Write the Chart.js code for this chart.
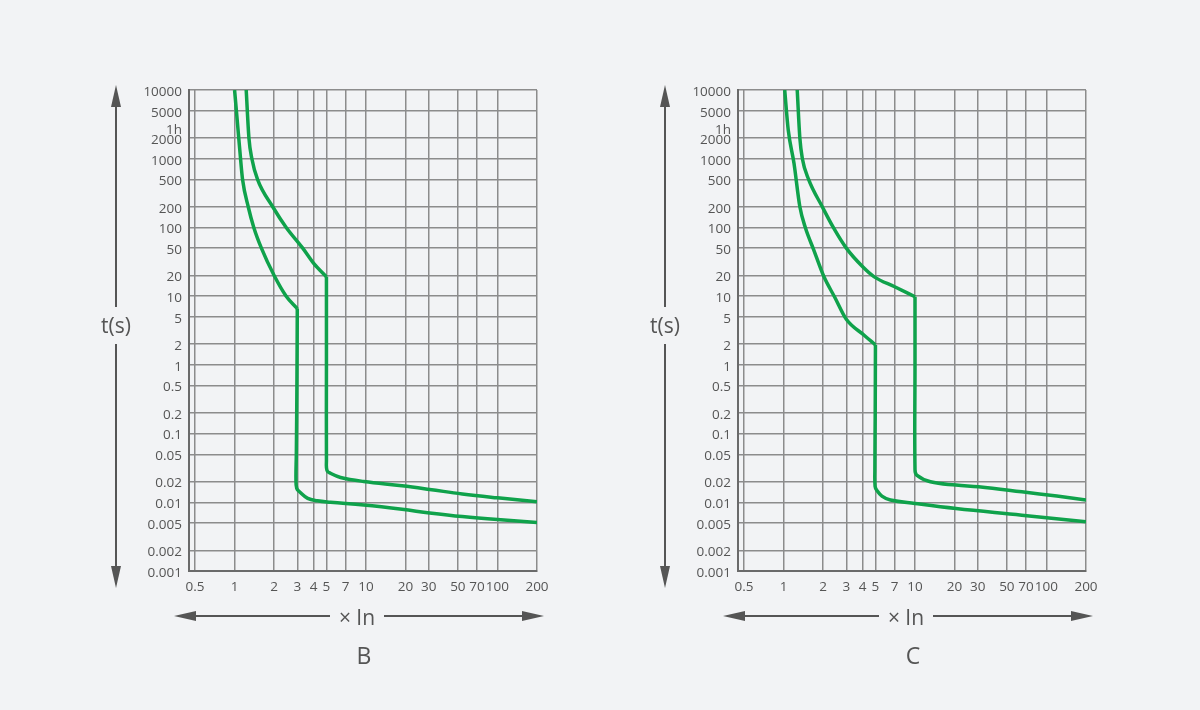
<!DOCTYPE html>
<html>
<head>
<meta charset="utf-8">
<script src="https://cdn.jsdelivr.net/npm/chart.js@4.4.1/dist/chart.umd.min.js"></script>
<style>
html,body{margin:0;padding:0;background:#f2f3f5;}
#wrap{position:relative;width:1200px;height:710px;overflow:hidden;background:#f2f3f5;font-family:'Open Sans',sans-serif;color:#555;}
.cv{position:absolute;top:0;width:600px;height:710px;}
.lbl{position:absolute;transform:translate(-50%,-50%);white-space:nowrap;line-height:1;color:#555;}
.ax{font-size:21px;}
.ttl{font-size:23px;}
</style>
</head>
<body>
<div id="wrap">
  <div class="cv" style="left:0"><canvas id="cB" width="600" height="710"></canvas></div>
  <div class="cv" style="left:549px"><canvas id="cC" width="600" height="710"></canvas></div>
  <div class="lbl ax" style="left:116px;top:325px">t(s)</div>
  <div class="lbl ax" style="left:665px;top:325px">t(s)</div>
  <div class="lbl ax" style="left:357px;top:617px">× In</div>
  <div class="lbl ax" style="left:906px;top:617px">× In</div>
  <div class="lbl ttl" style="left:364px;top:655px">B</div>
  <div class="lbl ttl" style="left:913px;top:655px">C</div>
</div>
<script>
// ---- tick values / labels ----
const xTicks = [0.5, 1, 2, 3, 4, 5, 7, 10, 20, 30, 50, 70, 100, 200];
const xTickLabels = ['0.5','1','2','3','4','5','7','10','20','30','50','70','100','200'];
const yTicks = [10000, 5000, 3600, 2000, 1000, 500, 200, 100, 50, 20, 10, 5, 2, 1, 0.5, 0.2, 0.1, 0.05, 0.02, 0.01, 0.005, 0.002, 0.001];
const yTickLabels = ['10000','5000','1h','2000','1000','500','200','100','50','20','10','5','2','1','0.5','0.2','0.1','0.05','0.02','0.01','0.005','0.002','0.001'];

// ---- B curve (x In, t seconds) ----
const bMinThermalX = [1.0, 1.076, 1.11, 1.15, 1.27, 1.40, 1.60, 2.0, 2.47, 3.0];
const bMinThermalY = [10000, 2000, 1000, 500, 200, 100, 50, 20, 10, 6.6];
const bMinMagX = [3.0, 2.98, 2.95, 2.93, 2.97, 3.12, 3.6, 4.26, 5.37, 9.6, 18.8, 30.5, 54, 100, 200];
const bMinMagY = [6.6, 0.5, 0.05, 0.022, 0.016, 0.0142, 0.0114, 0.0105, 0.0100, 0.0091, 0.0079, 0.0070, 0.0062, 0.0056, 0.0051];
const bMaxThermalX = [1.226, 1.286, 1.354, 1.495, 1.95, 2.47, 3.3, 4.0, 5.0];
const bMaxThermalY = [10000, 2000, 1000, 500, 200, 100, 50, 30, 19.1];
const bMaxMagX = [5.0, 5.0, 5.0, 5.05, 5.37, 6.4, 9.6, 18.8, 30.5, 54, 100, 200];
const bMaxMagY = [19.1, 1, 0.04, 0.029, 0.0264, 0.023, 0.0201, 0.0174, 0.0154, 0.0132, 0.0116, 0.0102];

// ---- C curve ----
const cMinThermalX = [1.02, 1.085, 1.20, 1.33, 1.47, 1.69, 2.03, 2.44, 3.0, 4.1, 5.0];
const cMinThermalY = [10000, 2620, 857, 200, 97, 48, 19.1, 9.8, 4.6, 2.7, 1.95];
const cMinMagX = [5.0, 4.98, 4.95, 4.97, 5.1, 5.6, 6.5, 10, 20.5, 65, 200];
const cMinMagY = [1.95, 0.2, 0.03, 0.017, 0.0151, 0.0123, 0.0108, 0.0096, 0.0081, 0.0065, 0.0052];
const cMaxThermalX = [1.27, 1.33, 1.39, 1.55, 1.97, 2.39, 3.0, 4.0, 4.9, 7.0, 10];
const cMaxThermalY = [10000, 2000, 1000, 500, 200, 100, 50, 26.8, 19.1, 13.7, 9.8];
const cMaxMagX = [10, 10, 10, 10.3, 13.1, 20.5, 30.5, 65, 120, 200];
const cMaxMagY = [9.8, 1, 0.03, 0.0249, 0.0199, 0.0178, 0.0168, 0.0142, 0.0123, 0.0108];

const GREEN = '#0fa24b';
const GRID = '#8c8c8c';
const BORDER = '#6a6a6a';
const TEXT = '#555555';

function pts(xs, ys) { return xs.map((x, i) => ({ x: x, y: ys[i] })); }
function ds(xs, ys, mono) {
  const d = { data: pts(xs, ys), borderColor: GREEN, borderWidth: 3.5, pointRadius: 0,
           tension: 0.4, fill: false, borderJoinStyle: 'round', borderCapStyle: 'butt' };
  if (mono) d.cubicInterpolationMode = 'monotone';
  return d;
}

const arrowPlugin = {
  id: 'arrows',
  afterDraw(chart) {
    const c = chart.ctx;
    c.save();
    c.strokeStyle = '#555'; c.fillStyle = '#555'; c.lineWidth = 2;
    const vx = 116, top = 85, bot = 588, g1 = 307, g2 = 344;
    const hy = 616, lft = 174, rgt = 544, h1 = 330, h2 = 384;
    const L = 22, W = 5;
    c.beginPath();
    c.moveTo(vx, top + L - 2); c.lineTo(vx, g1);
    c.moveTo(vx, g2); c.lineTo(vx, bot - L + 2);
    c.moveTo(lft + L - 2, hy); c.lineTo(h1, hy);
    c.moveTo(h2, hy); c.lineTo(rgt - L + 2, hy);
    c.stroke();
    const tri = (a, b, d, e, f, g) => { c.beginPath(); c.moveTo(a, b); c.lineTo(d, e); c.lineTo(f, g); c.closePath(); c.fill(); };
    tri(vx, top, vx - W, top + L, vx + W, top + L);
    tri(vx, bot, vx - W, bot - L, vx + W, bot - L);
    tri(lft, hy, lft + L, hy - W, lft + L, hy + W);
    tri(rgt, hy, rgt - L, hy - W, rgt - L, hy + W);
    c.restore();
  }
};

function makeChart(id, sets) {
  return new Chart(document.getElementById(id), {
    type: 'line',
    data: { datasets: sets },
    plugins: [arrowPlugin],
    options: {
      responsive: false, animation: false, devicePixelRatio: 1,
      layout: { padding: { left: 129, right: 63, top: 90, bottom: 109 } },
      plugins: { legend: { display: false }, tooltip: { enabled: false } },
      scales: {
        x: {
          type: 'logarithmic', min: 0.45, max: 200,
          afterBuildTicks: s => { s.ticks = xTicks.map(v => ({ value: v })); },
          afterFit: s => { s.height = 30; },
          ticks: { autoSkip: false, maxRotation: 0, padding: 8, color: TEXT,
                   font: { family: 'Open Sans', size: 13.5 },
                   callback: (v, i) => xTickLabels[i] },
          grid: { color: GRID, lineWidth: 1.5, drawTicks: false },
          border: { display: true, color: BORDER, width: 2 }
        },
        y: {
          type: 'logarithmic', min: 0.001, max: 10000,
          afterBuildTicks: s => { s.ticks = yTicks.map(v => ({ value: v })); },
          afterFit: s => { s.width = 60; },
          ticks: { autoSkip: false, padding: 7, color: TEXT, labelOffset: 2,
                   font: { family: 'Open Sans', size: 13.5 },
                   callback: (v, i) => yTickLabels[i] === '1h' ? ['', '1h'] : yTickLabels[i] },
          grid: { color: ctx => (ctx.tick && ctx.tick.value === 3600) ? 'rgba(0,0,0,0)' : GRID,
                  lineWidth: 1.5, drawTicks: false },
          border: { display: true, color: BORDER, width: 2 }
        }
      }
    }
  });
}

makeChart('cB', [ds(bMinThermalX, bMinThermalY, true), ds(bMinMagX, bMinMagY),
                 ds(bMaxThermalX, bMaxThermalY, true), ds(bMaxMagX, bMaxMagY)]);
makeChart('cC', [ds(cMinThermalX, cMinThermalY, true), ds(cMinMagX, cMinMagY),
                 ds(cMaxThermalX, cMaxThermalY, true), ds(cMaxMagX, cMaxMagY)]);
</script>
</body>
</html>
